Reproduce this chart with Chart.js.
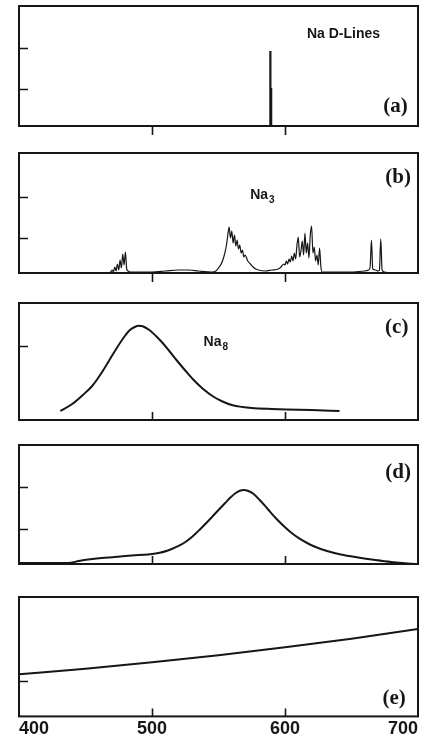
<!DOCTYPE html>
<html><head><meta charset="utf-8">
<script src="https://cdn.jsdelivr.net/npm/chart.js@4/dist/chart.umd.min.js"></script>
<style>
html,body{margin:0;padding:0;background:#fff;width:423px;height:742px;overflow:hidden;position:relative}
canvas{position:absolute;left:0}
</style></head><body>
<canvas id="pa" width="423" height="140" style="top:0px"></canvas>
<canvas id="pb" width="423" height="150" style="top:140px"></canvas>
<canvas id="pc" width="423" height="145" style="top:290px"></canvas>
<canvas id="pd" width="423" height="140" style="top:435px"></canvas>
<canvas id="pe" width="423" height="162" style="top:580px"></canvas>
<script>
// ---- shared axis values ----
const xMin = 400, xMax = 700;
const xTickLabels = [400, 500, 600, 700];
const xTickMarks = [500, 600];

// ---- (a) Na D-lines ----
const dLineWavelengths = [589.0, 589.6];
const dLineIntensities = [75, 38];
const aYTicks = [37, 78];

// ---- (b) Na3 ----
const na3Wavelengths = [400,466,469,470,471,472,473,474,475,476,477,478,479,480,481,482,484,490,500,510,520,528,535,545,548,550,552,554,556,557,558,559,560,561,562,563,564,565,566,567,568,569,570,572,574,576,578,580,585,590,595,597,599,600,601,602,603,604,605,606,607,608,609,610,611,612,613,614,615,616,617,618,619,620,621,622,623,624,625,626,627,628,635,650,660,663,664,665,666,668,670,671,672,673,675,680,700];
const na3Intensities = [0,0,1,3,1,6,2,9,3,13,5,19,8,21,4,2,1,1,1,2,3,3,2,1,2,5,9,16,28,38,46,35,42,30,38,27,33,24,28,20,23,16,18,12,9,6,4,3,2,3,4,6,9,8,12,9,14,11,17,12,20,14,28,36,16,22,32,18,40,20,30,15,38,47,20,26,12,18,8,25,6,1,1,1,2,3,6,33,4,3,2,3,34,3,1,0,0];
const bYTicks = [35, 76];

// ---- (c) Na8 ----
const na8Wavelengths = [431,440,448,455,461,468,474,479,483,487,490,493,498,503,508,513,519,525,531,538,546,553,560,568,575,590,601,620,641];
const na8Intensities = [9,16,25,34,45,60,73,83,89.5,93,94.3,93.8,90,84,77,69,59,49.5,40.5,31.5,23.5,18.5,15,13,12,11,10.5,10,9];
const cYTicks = [74];

// ---- (d) ----
const dWavelengths = [400,437,445,452,462,472,485,497,505,512,518,524,530,536,543,550,555,559,563,566,569,572,576,581,587,593,599,605,611,618,624,631,642,655,668,680,688,698];
const dIntensities = [1,1,3,4.5,6,7,8.5,9.5,11,13.5,16.8,21,27,34.5,44,54,61,66.5,71,73.3,74,73.3,70.5,64,55,46,38,31,25.3,20,16.5,13.3,9.5,6.5,4,2,1,0];
const dYTicks = [35, 77];

// ---- (e) ----
const eWavelengths = [400,450,500,550,600,650,700];
const eIntensities = [42,47.5,54,61,69,77.5,87];
const eYTicks = [35];

const INK = '#161616';

const panelDecor = {
  id: 'panelDecor',
  afterDatasetsDraw(chart, args, opts) {
    const {ctx, chartArea: a, scales: {x, y}} = chart;
    ctx.save();
    ctx.strokeStyle = INK;
    ctx.lineWidth = 2;
    ctx.strokeRect(a.left, a.top, a.right - a.left, a.bottom - a.top);
    ctx.lineWidth = 1.6;
    ctx.beginPath();
    for (const v of opts.xTicks) {
      const px = Math.round(x.getPixelForValue(v)) + 0.5;
      ctx.moveTo(px, a.bottom);
      ctx.lineTo(px, opts.xOut ? a.bottom + 9 : a.bottom - 8);
    }
    for (const v of opts.yTicks) {
      const py = Math.round(y.getPixelForValue(v)) + 0.5;
      ctx.moveTo(a.left, py);
      ctx.lineTo(a.left + 9, py);
    }
    ctx.stroke();
    ctx.fillStyle = INK;
    ctx.textBaseline = 'middle';
    for (const l of (opts.labels || [])) {
      const px = x.getPixelForValue(l.x), py = y.getPixelForValue(l.y);
      ctx.font = l.font;
      const w1 = ctx.measureText(l.text).width;
      let w2 = 0;
      if (l.sub) { ctx.font = l.subFont; w2 = ctx.measureText(l.sub).width + 1; }
      const left = px - (w1 + w2) / 2;
      ctx.textAlign = 'left';
      ctx.font = l.font;
      ctx.fillText(l.text, left, py);
      if (l.sub) { ctx.font = l.subFont; ctx.fillText(l.sub, left + w1 + 1, py + 5); }
    }
    ctx.restore();
  }
};

const SANS_B = 'bold 14px "Liberation Sans", Arial, sans-serif';
const SUB_B = 'bold 10px "Liberation Sans", Arial, sans-serif';
const SERIF_B = 'bold 21px "Liberation Serif", "Times New Roman", serif';

function toPoints(xs, ys) { return xs.map((v, i) => ({x: v, y: ys[i]})); }

function makePanel(id, cfg) {
  const ds = cfg.datasets.map(d => Object.assign({
    borderColor: INK, borderWidth: 2, pointRadius: 0, fill: false,
    tension: 0.4, cubicInterpolationMode: 'monotone'
  }, d));
  return new Chart(document.getElementById(id), {
    type: 'line',
    data: {datasets: ds},
    options: {
      responsive: false, animation: false, events: [],
      layout: {padding: cfg.padding},
      plugins: {
        legend: {display: false}, tooltip: {enabled: false},
        panelDecor: {xTicks: xTickMarks, xOut: cfg.xOut, yTicks: cfg.yTicks, labels: cfg.labels}
      },
      scales: {
        x: cfg.xAxis || {type: 'linear', min: xMin, max: xMax, display: false},
        y: {type: 'linear', min: 0, max: cfg.yMax, display: false}
      }
    },
    plugins: [panelDecor]
  });
}

// (a) build vertical line segments from the D-line arrays
const aPoints = [];
dLineWavelengths.forEach((w, i) => { aPoints.push({x: w, y: 0}, {x: w, y: dLineIntensities[i]}, {x: w, y: 0}); });

makePanel('pa', {
  padding: {left: 19, right: 5, top: 6, bottom: 14}, yMax: 120, xOut: true, yTicks: aYTicks,
  datasets: [{data: aPoints, tension: 0, borderWidth: 2.2}],
  labels: [
    {text: 'Na D-Lines', x: 644, y: 92, font: SANS_B},
    {text: '(a)', x: 683, y: 19, font: SERIF_B}
  ]
});

makePanel('pb', {
  padding: {left: 19, right: 5, top: 13, bottom: 17}, yMax: 120, xOut: true, yTicks: bYTicks,
  datasets: [{data: toPoints(na3Wavelengths, na3Intensities), tension: 0, borderWidth: 1.2}],
  labels: [
    {text: 'Na', sub: '3', x: 583, y: 78, font: SANS_B, subFont: SUB_B},
    {text: '(b)', x: 685, y: 95, font: SERIF_B}
  ]
});

makePanel('pc', {
  padding: {left: 19, right: 5, top: 13, bottom: 15}, yMax: 117, xOut: false, yTicks: cYTicks,
  datasets: [{data: toPoints(na8Wavelengths, na8Intensities)}],
  labels: [
    {text: 'Na', sub: '8', x: 548, y: 78, font: SANS_B, subFont: SUB_B},
    {text: '(c)', x: 684, y: 92, font: SERIF_B}
  ]
});

makePanel('pd', {
  padding: {left: 19, right: 5, top: 10, bottom: 11}, yMax: 119, xOut: false, yTicks: dYTicks,
  datasets: [{data: toPoints(dWavelengths, dIntensities)}],
  labels: [
    {text: '(d)', x: 685, y: 91, font: SERIF_B}
  ]
});

makePanel('pe', {
  padding: {left: 19, right: 5, top: 17, bottom: 0}, yMax: 119, xOut: false, yTicks: eYTicks,
  datasets: [{data: toPoints(eWavelengths, eIntensities)}],
  labels: [
    {text: '(e)', x: 682, y: 18, font: SERIF_B}
  ],
  xAxis: {
    type: 'linear', min: xMin, max: xMax, display: true,
    grid: {display: false, drawTicks: false}, border: {display: false},
    afterBuildTicks: axis => { axis.ticks = xTickLabels.map(v => ({value: v})); },
    ticks: {
      autoSkip: false, maxRotation: 0, padding: 2, color: INK, align: 'inner',
      font: {family: '"Liberation Sans", Arial, sans-serif', size: 18, weight: 'bold'}
    }
  }
});
</script>
</body></html>
